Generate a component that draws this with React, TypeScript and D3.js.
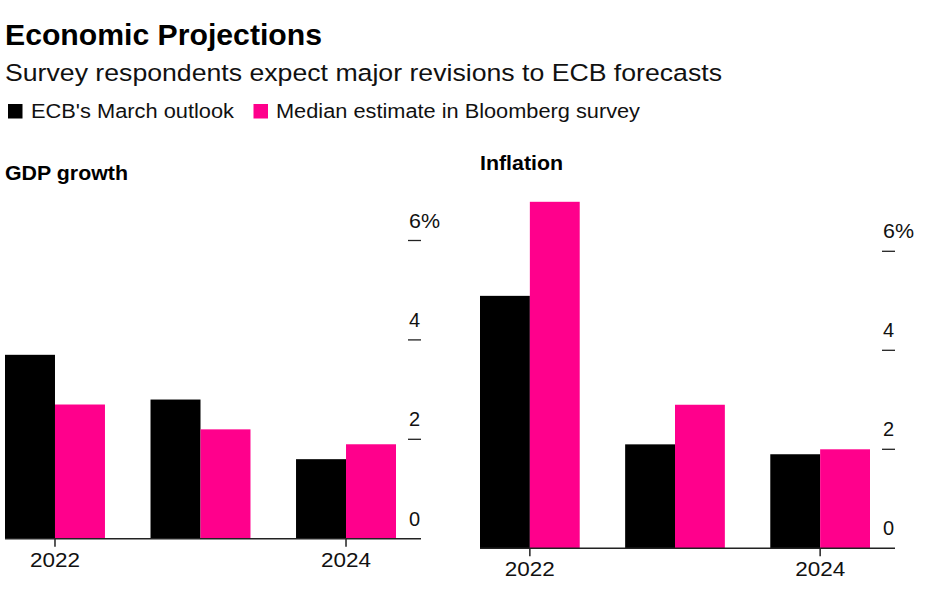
import React from "react";
import * as d3 from "d3";

const years = ["2022", "2023", "2024"];
const xTickYears = ["2022", "2024"];
const seriesNames = ["ECB's March outlook", "Median estimate in Bloomberg survey"];
const seriesColors = ["#000000", "#ff008c"];
const gdpEcb = [3.7, 2.8, 1.6];
const gdpSurvey = [2.7, 2.2, 1.9];
const inflEcb = [5.1, 2.1, 1.9];
const inflSurvey = [7.0, 2.9, 2.0];
const yTicks = [0, 2, 4, 6];

const FONT = "'Liberation Sans', Arial, Helvetica, sans-serif";

type PanelProps = {
  title: string;
  titleY: number;
  titleX: number;
  titleLen: number;
  a: number[];
  b: number[];
  x0: number;
  x1: number;
  axisRight: number;
  base: number;
  top6: number;
};

function Panel({ title, titleX, titleY, titleLen, a, b, x0, x1, axisRight, base, top6 }: PanelProps) {
  const x = d3.scaleBand<string>().domain(years).range([x0, x1]).paddingInner(0.313).paddingOuter(0);
  const inner = d3.scaleBand<number>().domain([0, 1]).range([0, x.bandwidth()]);
  const y = d3.scaleLinear().domain([0, 6]).range([base, top6]);
  const series = [a, b];
  return (
    <g>
      <text x={titleX} y={titleY} fontFamily={FONT} fontWeight="bold" fontSize={21} fill="#000"
        textLength={titleLen} lengthAdjust="spacingAndGlyphs">
        {title}
      </text>
      {series.map((vals, si) =>
        years.map((yr, i) => (
          <rect
            key={`${si}-${yr}`}
            x={(x(yr) ?? 0) + (inner(si) ?? 0)}
            y={y(vals[i])}
            width={inner.bandwidth()}
            height={y(0) - y(vals[i])}
            fill={seriesColors[si]}
          />
        ))
      )}
      {yTicks.map((t) => (
        <g key={t}>
          {t !== 0 && (
            <line x1={axisRight - 13} x2={axisRight} y1={y(t)} y2={y(t)} stroke="#222" strokeWidth={1.3} />
          )}
          <text x={axisRight - 12} y={y(t) - 13} fontFamily={FONT} fontSize={20} fill="#111"
            textLength={t === 6 ? 31 : undefined} lengthAdjust="spacingAndGlyphs">
            {t === 6 ? "6%" : String(t)}
          </text>
        </g>
      ))}
      <line x1={x0} x2={axisRight} y1={base} y2={base} stroke="#222" strokeWidth={1.5} />
      {xTickYears.map((yr) => {
        const cx = (x(yr) ?? 0) + x.bandwidth() / 2;
        return (
          <g key={yr}>
            <line x1={cx} x2={cx} y1={base} y2={base + 8} stroke="#222" strokeWidth={1.5} />
            <text x={cx - 25} y={base + 28} fontFamily={FONT} fontSize={20} fill="#111"
              textLength={50} lengthAdjust="spacingAndGlyphs">
              {yr}
            </text>
          </g>
        );
      })}
    </g>
  );
}

export default function App() {
  return (
    <svg width={937} height={590} style={{ position: "absolute", left: 0, top: 0, background: "#fff" }}>
      <text x={5} y={45} fontFamily={FONT} fontWeight="bold" fontSize={29} fill="#000"
        textLength={317} lengthAdjust="spacingAndGlyphs">
        Economic Projections
      </text>
      <text x={5} y={81} fontFamily={FONT} fontSize={24.5} fill="#111"
        textLength={717} lengthAdjust="spacingAndGlyphs">
        Survey respondents expect major revisions to ECB forecasts
      </text>
      <g>
        <rect x={8} y={104} width={14.5} height={14.5} fill={seriesColors[0]} />
        <text x={31} y={118} fontFamily={FONT} fontSize={20} fill="#111"
          textLength={203} lengthAdjust="spacingAndGlyphs">
          {seriesNames[0]}
        </text>
        <rect x={253.5} y={104} width={14.5} height={14.5} fill={seriesColors[1]} />
        <text x={276} y={118} fontFamily={FONT} fontSize={20} fill="#111"
          textLength={364} lengthAdjust="spacingAndGlyphs">
          {seriesNames[1]}
        </text>
      </g>
      <Panel title="GDP growth" titleX={5} titleY={180} titleLen={123} a={gdpEcb} b={gdpSurvey} x0={5} x1={396} axisRight={421} base={538.7} top6={240.5} />
      <Panel title="Inflation" titleX={480} titleY={170} titleLen={83} a={inflEcb} b={inflSurvey} x0={480} x1={870} axisRight={895} base={548.3} top6={251.3} />
    </svg>
  );
}
